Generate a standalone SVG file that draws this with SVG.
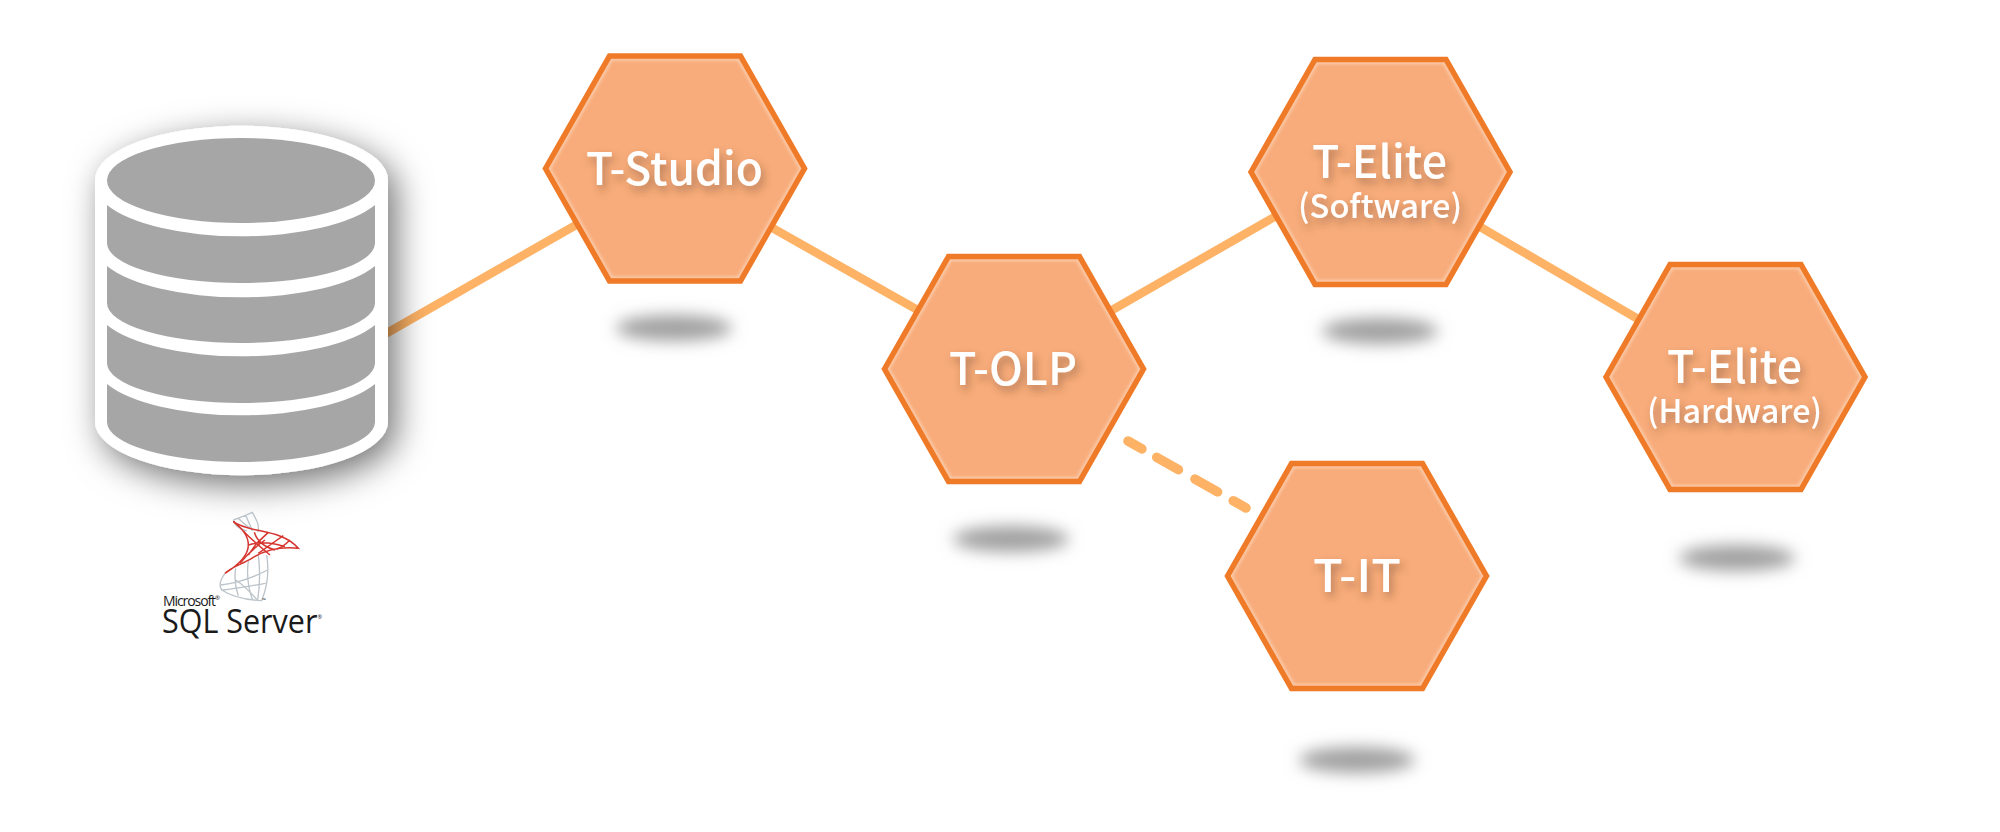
<svg xmlns="http://www.w3.org/2000/svg" xmlns:xlink="http://www.w3.org/1999/xlink" width="2000" height="832" viewBox="0 0 2000 832">
<style>
.conn{fill:none;stroke:#fdb265;stroke-width:8.5}
.dash{stroke-width:9.5;stroke-linecap:round;stroke-dasharray:16 17 25 19 26 18 15}
.band{fill:#a6a6a6}
.blob{fill:#a0a0a0;filter:url(#blur5)}
.big,.sub{font-family:"Noto Sans CJK KR","Noto Sans",sans-serif;fill:#fff;font-weight:500;filter:url(#ts)}
.big{font-size:45px}
.sub{font-size:32px}
.ms{font-family:"Open Sans","Liberation Sans",sans-serif;fill:#1a1a1a;font-weight:400}
.g{fill:none;stroke:#bcc4ca;stroke-width:4}
.r{fill:none;stroke:#d6352f;stroke-width:4.5}
</style>
<defs>
<filter id="blur5" x="-40%" y="-150%" width="180%" height="400%"><feGaussianBlur stdDeviation="8"/></filter>
<filter id="blur1" x="-5%" y="-5%" width="110%" height="110%"><feGaussianBlur stdDeviation="1.6"/></filter>
<filter id="ts" x="-15%" y="-30%" width="130%" height="170%"><feDropShadow dx="3" dy="5" stdDeviation="4" flood-color="#5a3a28" flood-opacity=".45"/></filter>
<filter id="ds" x="-30%" y="-30%" width="160%" height="160%"><feDropShadow dx="8" dy="10" stdDeviation="17" flood-color="#000" flood-opacity=".55"/></filter>
<g id="hex">
<polygon points="-129.5,0 -65.5,-112.5 65.5,-112.5 129.5,0 65.5,112.5 -65.5,112.5" fill="#f8ac7b"/>
<polygon points="-126,0 -63.5,-109.5 63.5,-109.5 126,0 63.5,109.5 -63.5,109.5" fill="none" stroke="#fbcfb0" stroke-width="3" filter="url(#blur1)"/>
<polygon points="-129.5,0 -65.5,-112.5 65.5,-112.5 129.5,0 65.5,112.5 -65.5,112.5" fill="none" stroke="#ef7a28" stroke-width="5.5"/>
</g>
</defs>
<rect width="2000" height="832" fill="#fff"/>
<g id="connectors">
<line class="conn" x1="380" y1="337" x2="590" y2="217"/>
<line class="conn" x1="760" y1="221" x2="930" y2="317"/>
<line class="conn" x1="1100" y1="317" x2="1290" y2="208"/>
<line class="conn" x1="1470" y1="221" x2="1650" y2="326"/>
<line class="conn dash" x1="1128" y1="441" x2="1246" y2="508"/>
</g>
<g id="database">
<path d="M95,180 A146,54 0 0 1 388,180 V422 A146,53 0 0 1 95,422 Z" fill="#fff" filter="url(#ds)"/>
<ellipse class="band" cx="241" cy="180.5" rx="134" ry="42.5"/>
<path class="band" d="M107,205 A146,52 0 0 0 375,205 V243 A134,40 0 0 1 107,243 Z"/>
<path class="band" d="M107,266 A146,52 0 0 0 375,266 V303 A134,40 0 0 1 107,303 Z"/>
<path class="band" d="M107,325 A146,52 0 0 0 375,325 V363 A134,40 0 0 1 107,363 Z"/>
<path class="band" d="M107,384 A146,52 0 0 0 375,384 V422 A134,40 0 0 1 107,422 Z"/>
</g>
<g id="sqlserver">
<g transform="translate(215 505) scale(.3333)">
<path class="g" d="M55,45 C75,38 95,30 112,22 C125,45 135,62 128,82 M55,45 C58,60 75,72 95,78 M70,40 C85,55 100,68 115,75 M92,31 C100,50 108,65 112,78"/>
<path class="g" d="M30,205 C15,225 10,240 20,255 C50,275 100,285 140,287 C155,250 165,210 155,150 M62,190 C58,215 60,245 70,272 M100,168 C95,205 100,250 112,283 M130,150 C135,190 135,240 128,285 M18,240 C60,235 110,220 158,195 M22,255 C70,250 120,240 152,235 M62,225 C85,240 105,260 125,283"/>
<path class="r" d="M55,50 C100,85 200,70 250,130 C200,125 150,135 110,160 C80,178 50,185 30,205 C70,180 100,150 100,120 C100,90 80,70 55,50"/>
<path class="r" d="M85,78 C105,100 135,125 165,150 M118,82 C125,105 145,125 180,135 M160,82 L125,115 L100,150 M205,92 L165,120 L130,145 M225,105 C205,125 195,130 185,132 M100,120 C130,110 165,110 210,125 M75,175 C95,150 115,130 150,105"/>
</g>
<text class="ms" x="163" y="606" font-size="14" textLength="57">Microsoft<tspan font-size="6" dy="-6">®</tspan></text>
<text class="ms" x="162" y="633" font-size="33" textLength="160" lengthAdjust="spacingAndGlyphs">SQL Server<tspan font-size="6" dy="-14">®</tspan></text>
<text class="ms" x="262" y="602" font-size="5">™</text>
</g>
<g id="t-studio">
<ellipse class="blob" cx="674" cy="328" rx="58" ry="13"/>
<use xlink:href="#hex" href="#hex" x="675" y="168.5"/>
<text class="big" x="586" y="185" textLength="177" lengthAdjust="spacingAndGlyphs">T-Studio</text>
</g>
<g id="t-olp">
<ellipse class="blob" cx="1011" cy="539" rx="58" ry="13"/>
<use xlink:href="#hex" href="#hex" x="1014" y="369"/>
<text class="big" x="949" y="385" textLength="128" lengthAdjust="spacingAndGlyphs">T-OLP</text>
</g>
<g id="t-elite-software">
<ellipse class="blob" cx="1380" cy="331" rx="58" ry="13"/>
<use xlink:href="#hex" href="#hex" x="1380.5" y="172"/>
<text class="big" x="1312" y="178" textLength="135" lengthAdjust="spacingAndGlyphs">T-Elite</text>
<text class="sub" x="1298" y="218" textLength="164" lengthAdjust="spacingAndGlyphs">(Software)</text>
</g>
<g id="t-it">
<ellipse class="blob" cx="1357" cy="760" rx="58" ry="13"/>
<use xlink:href="#hex" href="#hex" x="1357" y="576"/>
<text class="big" x="1313" y="592" textLength="88" lengthAdjust="spacingAndGlyphs">T-IT</text>
</g>
<g id="t-elite-hardware">
<ellipse class="blob" cx="1737" cy="558" rx="58" ry="13"/>
<use xlink:href="#hex" href="#hex" x="1735.5" y="377"/>
<text class="big" x="1667" y="383" textLength="135" lengthAdjust="spacingAndGlyphs">T-Elite</text>
<text class="sub" x="1647" y="423" textLength="175" lengthAdjust="spacingAndGlyphs">(Hardware)</text>
</g>
</svg>
